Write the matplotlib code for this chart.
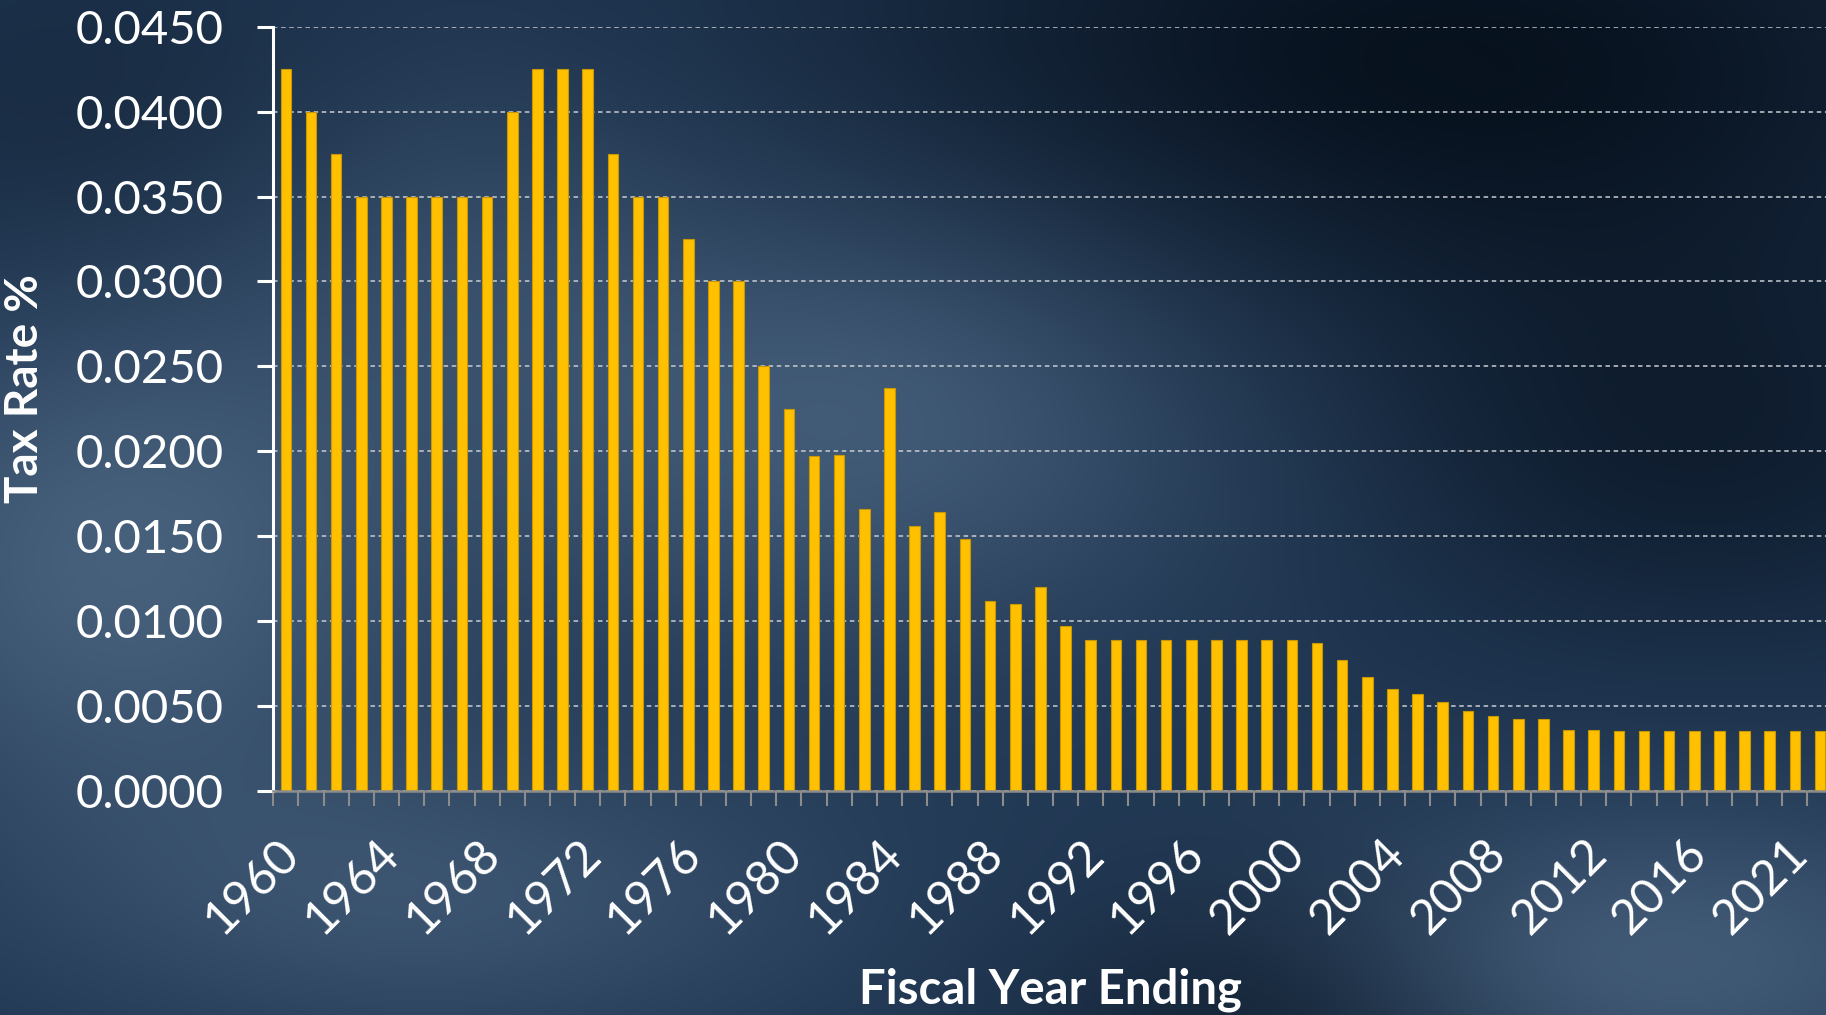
import numpy as np
import matplotlib.pyplot as plt
from matplotlib.transforms import ScaledTranslation

plt.rcParams['font.family'] = ['Lato', 'DejaVu Sans']

# fiscal years (2020 is not in the source table)
years = list(range(1960, 2020)) + [2021, 2022]

# tax rate per fiscal year
rates = [0.0425, 0.0400, 0.0375, 0.0350, 0.0350, 0.0350, 0.0350, 0.0350, 0.0350, 0.0400,
         0.0425, 0.0425, 0.0425, 0.0375, 0.0350, 0.0350, 0.0325, 0.0300, 0.0300, 0.0250,
         0.0225, 0.0197, 0.0198, 0.0166, 0.0237, 0.0156, 0.0164, 0.0148, 0.0112, 0.0110,
         0.0120, 0.0097, 0.0089, 0.0089, 0.0089, 0.0089, 0.0089, 0.0089, 0.0089, 0.0089,
         0.0089, 0.0087, 0.0077, 0.0067, 0.0060, 0.0057, 0.0052, 0.0047, 0.0044, 0.0042,
         0.0042, 0.0036, 0.0036, 0.0035, 0.0035, 0.0035, 0.0035, 0.0035, 0.0035, 0.0035,
         0.0035, 0.0035]

yticks = [0.0, 0.005, 0.010, 0.015, 0.020, 0.025, 0.030, 0.035, 0.040, 0.045]

W, H = 1826, 1015


def blob(xx, yy, cx, cy, rx, ry):
    return np.exp(-(((xx - cx) / rx) ** 2 + ((yy - cy) / ry) ** 2))


# background: dark navy slide with lighter hazy patches
yy, xx = np.mgrid[0:H, 0:W]
base = np.array([0.12, 0.21, 0.32])
light = np.array([0.29, 0.39, 0.50])
dark = np.array([0.03, 0.07, 0.12])
wl = (0.9 * blob(xx, yy, 120, 560, 300, 260)
      + 0.8 * blob(xx, yy, 850, 420, 380, 230)
      + 0.6 * blob(xx, yy, 450, 900, 400, 150)
      + 0.8 * blob(xx, yy, 1650, 960, 380, 160)
      + 0.35 * blob(xx, yy, 450, 230, 250, 200))
wd = (1.0 * blob(xx, yy, 1450, 60, 600, 260)
      + 0.7 * blob(xx, yy, 1300, 1015, 260, 140)
      + 0.6 * blob(xx, yy, 1700, 450, 350, 200)
      + 0.3 * blob(xx, yy, 100, 120, 300, 200))
wl = np.clip(wl, 0, 1)[..., None]
wd = np.clip(wd, 0, 1)[..., None]
img = base + wl * (light - base)
img = img - wd * (img - dark) * (1 - wl)
img = np.clip(img, 0, 1)

fig = plt.figure(figsize=(W / 100, H / 100), dpi=100)
bg = fig.add_axes([0, 0, 1, 1])
bg.imshow(img, aspect='auto', interpolation='bilinear')
bg.axis('off')

left = 273.3 / W
bottom = 1 - 790.7 / H
height = (790.7 - 26.8) / H
width = 1559.3 / W
ax = fig.add_axes([left, bottom, width, height])
ax.patch.set_alpha(0)

x = np.arange(len(years))
ax.bar(x, rates, width=0.42, color='#FFC000', edgecolor='#c99700', linewidth=0.8, zorder=3)

ax.set_xlim(-0.5, len(years) - 0.5)
ax.set_ylim(0, 0.045)

ax.set_yticks(yticks)
ax.set_yticklabels([f'{v:.4f}' for v in yticks])
ax.yaxis.grid(True, linestyle=(0, (2.5, 2)), color='#c8ccd2', linewidth=1.3, alpha=0.85, zorder=1)
ax.set_axisbelow(True)

for s in ['top', 'right']:
    ax.spines[s].set_visible(False)
ax.spines['left'].set_color('white')
ax.spines['left'].set_linewidth(2.2)
ax.spines['bottom'].set_color('#8c8c8c')
ax.spines['bottom'].set_linewidth(1.8)
ax.spines['bottom'].set_zorder(4)

ax.tick_params(axis='y', direction='out', length=11.5, width=2.2, color='white',
               labelcolor='white', labelsize=34, pad=24)

# labels every 4th category, tick marks between categories
ax.set_xticks(x[::4])
ax.set_xticklabels([str(years[i]) for i in x[::4]], rotation=45, ha='right', va='top',
                   rotation_mode='anchor')
ax.set_xticks(np.arange(-0.5, len(years)), minor=True)
ax.tick_params(axis='x', which='major', length=0, labelcolor='white', labelsize=35, pad=29)
ax.tick_params(axis='x', which='minor', direction='out', length=11, width=1.5, color='#8c8c8c')
shift = ScaledTranslation(-10 / 100, 0, fig.dpi_scale_trans)
for lbl in ax.get_xticklabels():
    lbl.set_transform(lbl.get_transform() + shift)

ax.set_ylabel('Tax Rate %', color='white', fontsize=33, fontweight='bold')
ax.yaxis.set_label_coords(-0.146, 0.527)
fig.text(1050 / W, 1 - 990 / H, 'Fiscal Year Ending', color='white', fontsize=34,
         fontweight='bold', ha='center', va='center')

fig.savefig('out.png', dpi=100)
